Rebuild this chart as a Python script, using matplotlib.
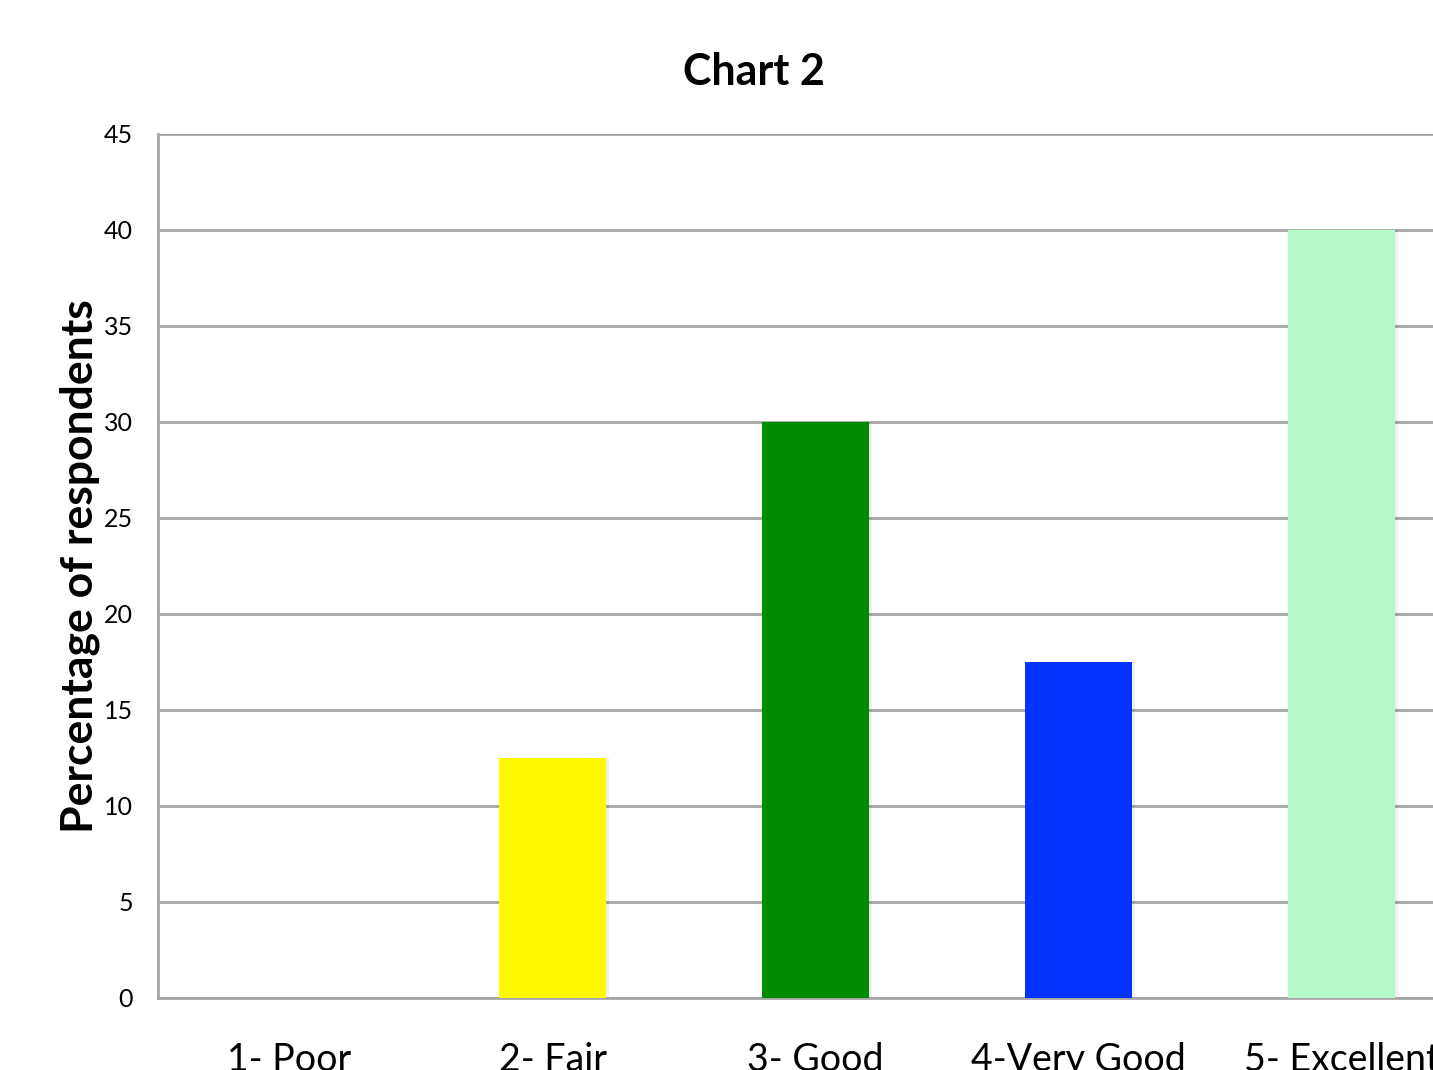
import matplotlib.pyplot as plt

plt.rcParams['font.family'] = ['Lato', 'DejaVu Sans']

categories = ['1- Poor', '2- Fair', '3- Good', '4-Very Good', '5- Excellent']
values = [0, 12.5, 30, 17.5, 40]
colors = ['#ffffff', '#fff900', '#008c00', '#0432ff', '#b5f9c8']
yticks = [0, 5, 10, 15, 20, 25, 30, 35, 40, 45]

fig = plt.figure(figsize=(14.33, 10.70), dpi=100)
ax = fig.add_axes([0.1103, 0.0673, 0.9177, 0.8075])

x = range(len(categories))
# faint shadow behind the bars
ax.bar([i + 0.008 for i in x], values, width=0.41, color='#000000', alpha=0.06, zorder=2)
ax.bar(x, values, width=0.405, color=colors, zorder=3)

ax.set_xlim(-0.5, 4.5)
ax.set_ylim(0, 45)
ax.set_yticks(yticks)
ax.set_xticks(list(x))
ax.set_xticklabels(categories, fontsize=27)
ax.tick_params(axis='x', length=0, pad=32)
ax.tick_params(axis='y', length=0, pad=18, labelsize=18)

ax.grid(axis='y', color='#a6a6a6', linewidth=2, zorder=1)
for s in ['top', 'right']:
    ax.spines[s].set_visible(False)
ax.spines['left'].set_color('#a6a6a6')
ax.spines['left'].set_linewidth(2)
ax.spines['bottom'].set_color('#a6a6a6')
ax.spines['bottom'].set_linewidth(2)

ax.set_ylabel('Percentage of respondents', fontsize=32, fontweight='bold', labelpad=3)
fig.text(0.526, 0.933, 'Chart 2', fontsize=31, fontweight='bold', ha='center', va='center')

fig.savefig('out.png', dpi=100)
